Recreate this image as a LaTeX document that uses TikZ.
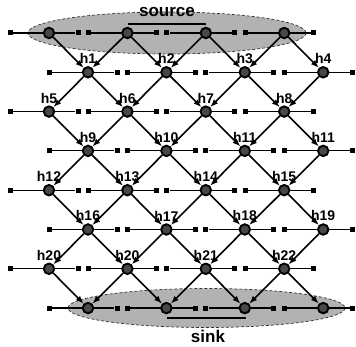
\documentclass[tikz,border=0pt]{standalone}
\usepackage{fontspec}
\setsansfont{Liberation Sans}
\usetikzlibrary{arrows.meta,calc}
\begin{document}
\begin{tikzpicture}[x=1pt,y=-1pt]
\tikzset{
 hub/.style={circle,draw=black,line width=1.9pt,fill=black!72,minimum size=10.5pt,inner sep=0pt},
 term/.style={rectangle,fill=black,minimum size=5pt,inner sep=0pt},
 wire/.style={line width=1.2pt},
 arr/.style={line width=1.6pt,-{Latex[length=8pt,width=6pt]}},
 lab/.style={font=\sffamily\bfseries\fontsize{14}{14}\selectfont,inner sep=0pt,anchor=south},
 biglab/.style={font=\sffamily\bfseries\fontsize{17}{17}\selectfont,inner sep=0pt,anchor=base},
 cloud/.style={draw=black!80,densely dashed,line width=0.7pt,fill=black!30},
 bar/.style={line width=2.6pt},
}
\useasboundingbox (0,0) rectangle (356,347);
% shaded regions
\draw[cloud] (167,33) ellipse [x radius=139, y radius=21];
\draw[cloud] (206.5,308) ellipse [x radius=138.5, y radius=19.5];
% rows
\foreach \r in {0,...,7} {
  \pgfmathsetmacro\y{33+39.3*\r}
  \pgfmathsetmacro\xo{mod(\r,2)==0 ? 49 : 88}
  \foreach \k in {0,...,3} {
    \pgfmathsetmacro\x{\xo+78.4*\k}
    \node[term] (la-\r-\k) at (\x-39,\y) {};
    \node[term] (ra-\r-\k) at (\x+29,\y) {};
    \draw[wire] (la-\r-\k) -- (ra-\r-\k);
    \node[hub] (n-\r-\k) at (\x,\y) {};
  }
}
% arrows even -> odd
\foreach \r in {0,2,4,6} {
  \pgfmathtruncatemacro\rn{\r+1}
  \foreach \k in {0,...,3} {
    \pgfmathtruncatemacro\km{\k-1}
    \ifnum\k>0 \draw[arr] (n-\r-\k) -- (n-\rn-\km); \fi
    \draw[arr] (n-\r-\k) -- (n-\rn-\k);
  }
}
% arrows odd -> even
\foreach \r in {1,3,5} {
  \pgfmathtruncatemacro\rn{\r+1}
  \foreach \k in {0,...,3} {
    \pgfmathtruncatemacro\kp{\k+1}
    \draw[arr] (n-\r-\k) -- (n-\rn-\k);
    \ifnum\k<3 \draw[arr] (n-\r-\k) -- (n-\rn-\kp); \fi
  }
}
% labels
\foreach \r/\k/\t in {1/0/h1,1/1/h2,1/2/h3,1/3/h4,
  2/0/h5,2/1/h6,2/2/h7,2/3/h8,
  3/0/h9,3/1/h10,3/2/h11,3/3/h11,
  4/0/h12,4/1/h13,4/2/h14,4/3/h15,
  5/0/h16,5/1/h17,5/2/h18,5/3/h19,
  6/0/h20,6/1/h20,6/2/h21,6/3/h22} {
  \node[lab] (t-\r-\k) at ([yshift=2pt]n-\r-\k.north) {\t};
}
% source / sink
\node[biglab] (src) at (167,17) {source};
\draw[bar] (128,24) -- (206,24);
\node[biglab] (snk) at (208,342) {sink};
\draw[bar] (167,318) -- (246,318);
\end{tikzpicture}
\end{document}
